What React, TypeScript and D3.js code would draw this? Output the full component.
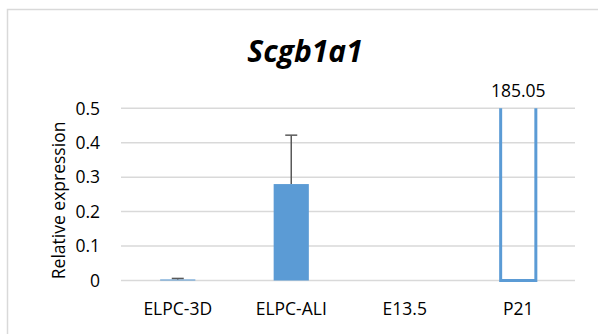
import React from "react";
import * as d3 from "d3";

const categories = ["ELPC-3D", "ELPC-ALI", "E13.5", "P21"];
const values = [0.003, 0.28, 0, 185.05];
const errors = [0.003, 0.142, 0, 0];
const yTicks = [0, 0.1, 0.2, 0.3, 0.4, 0.5];
const title = "Scgb1a1";
const yAxisTitle = "Relative expression";

const W = 598;
const H = 334;
const plot = { left: 121, right: 575, top: 108.3, bottom: 280.5 };
const blue = "#5B9BD5";
const grid = "#D9D9D9";
const font = "'Open Sans', sans-serif";
const labelSize = 17.5;

export default function App() {
  const x = d3
    .scaleBand<string>()
    .domain(categories)
    .range([plot.left, plot.right])
    .paddingInner(0.69)
    .paddingOuter(0.345);
  const y = d3.scaleLinear().domain([0, 0.5]).range([plot.bottom, plot.top]);
  const bw = x.bandwidth();

  return (
    <svg
      width={W}
      height={H}
      style={{ position: "absolute", left: 0, top: 0, background: "#fff" }}
    >
      <defs>
        <clipPath id="plotClip">
          <rect x={plot.left - 10} y={plot.top} width={plot.right - plot.left + 20} height={plot.bottom - plot.top + 10} />
        </clipPath>
      </defs>
      {/* chart frame */}
      <rect x={7.5} y={9.5} width={700} height={400} fill="#fff" stroke={grid} strokeWidth={1.5} />

      <text
        x={305}
        y={62}
        textAnchor="middle"
        fontFamily={font}
        fontWeight="bold"
        fontStyle="italic"
        fontSize={30}
        fill="#000"
      >
        {title}
      </text>

      {/* gridlines and tick labels */}
      {yTicks.map((t) => (
        <g key={t}>
          <line x1={plot.left} x2={plot.right} y1={y(t)} y2={y(t)} stroke={grid} strokeWidth={1.5} />
          <text
            x={100}
            y={y(t)}
            dy="0.36em"
            textAnchor="end"
            fontFamily={font}
            fontSize={labelSize}
            fill="#000"
          >
            {t === 0 ? "0" : d3.format(".1f")(t)}
          </text>
        </g>
      ))}

      <text
        transform={`translate(65,${(plot.top + plot.bottom) / 2 + 6}) rotate(-90)`}
        textAnchor="middle"
        fontFamily={font}
        fontSize={labelSize}
        fill="#000"
      >
        {yAxisTitle}
      </text>

      {/* bars */}
      <g clipPath="url(#plotClip)">
        {categories.map((c, i) => {
          const v = values[i];
          if (v <= 0) return null;
          const top = y(Math.min(v, 0.5 + 0.1));
          const x0 = x(c)!;
          if (v > 0.5) {
            return (
              <rect
                key={c}
                x={x0}
                y={top}
                width={bw}
                height={plot.bottom - top}
                fill="none"
                stroke={blue}
                strokeWidth={3}
              />
            );
          }
          return <rect key={c} x={x0} y={y(v)} width={bw} height={plot.bottom - y(v)} fill={blue} />;
        })}
      </g>

      {/* error bars */}
      {categories.map((c, i) => {
        if (errors[i] <= 0) return null;
        const cx = x(c)! + bw / 2;
        const y1 = y(values[i]);
        const y2 = y(values[i] + errors[i]);
        return (
          <g key={c} stroke="#595959" strokeWidth={1.5}>
            <line x1={cx} x2={cx} y1={y1} y2={y2} />
            <line x1={cx - 6} x2={cx + 6} y1={y2} y2={y2} />
          </g>
        );
      })}

      {/* value label for the off-scale bar */}
      {categories.map((c, i) =>
        values[i] > 0.5 ? (
          <text
            key={c}
            x={x(c)! + bw / 2}
            y={97}
            textAnchor="middle"
            fontFamily={font}
            fontSize={labelSize}
            fill="#000"
          >
            {d3.format(".2f")(values[i])}
          </text>
        ) : null
      )}

      {/* category labels */}
      {categories.map((c) => (
        <text
          key={c}
          x={x(c)! + bw / 2}
          y={315}
          textAnchor="middle"
          fontFamily={font}
          fontSize={labelSize}
          fill="#000"
        >
          {c}
        </text>
      ))}
    </svg>
  );
}
